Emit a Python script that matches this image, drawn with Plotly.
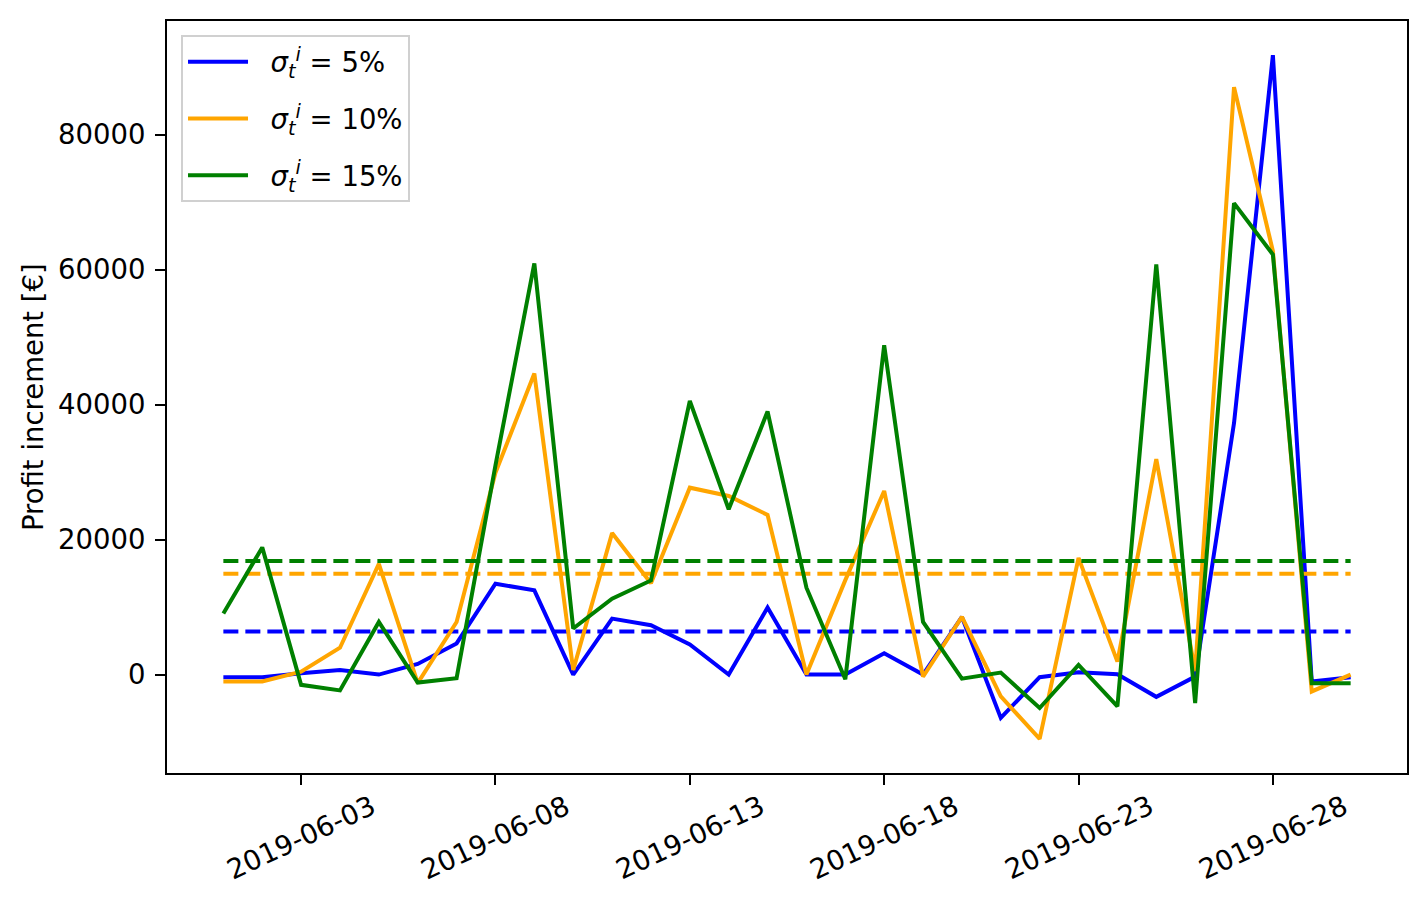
import numpy as np
import plotly.graph_objects as go

dates = [f"2019-06-{d:02d}" for d in range(1, 31)]

profit_5 = [-380, -380, 200, 690, 0, 1580, 4620, 13460, 12480, 0,
            8300, 7320, 4470, 0, 9930, 0, 0, 3150, 0, 8540,
            -6420, -390, 350, 50, -3300, -300, 37270, 91800, -1030, -390]
profit_10 = [-1030, -1030, 440, 3980, 16400, -1270, 7800, 29900, 44630, 690,
             20970, 13550, 27700, 26470, 23670, 0, 14000, 27210, -290, 8540,
             -3240, -9520, 17290, 1920, 31920, 500, 87060, 62750, -2500, 0]
profit_15 = [9040, 18850, -1520, -2350, 7800, -1180, -540, 31000, 60940, 6830,
             11250, 13950, 40560, 24500, 38990, 12870, -680, 48810, 7810, -600,
             300, -4950, 1430, -4710, 60790, -4210, 69870, 62260, -1270, -1270]

series_names = ["  <i>σ</i><sub><i>t</i></sub><sup><i>i</i></sup> = 5%",
                "  <i>σ</i><sub><i>t</i></sub><sup><i>i</i></sup> = 10%",
                "  <i>σ</i><sub><i>t</i></sub><sup><i>i</i></sup> = 15%"]
colors = ["#0000ff", "#ffa500", "#008000"]

xtick_vals = ["2019-06-03", "2019-06-08", "2019-06-13", "2019-06-18", "2019-06-23", "2019-06-28"]
ytick_vals = [0, 20000, 40000, 60000, 80000]

FONT = "DejaVu Sans"
FS = 27.5

fig = go.Figure()
all_series = [profit_5, profit_10, profit_15]
for i, (vals, name, col) in enumerate(zip(all_series, series_names, colors)):
    fig.add_trace(go.Scatter(x=dates, y=vals, mode="lines", name=name,
                             line=dict(color=col, width=4), legendgroup=f"g{i}"))
    m = float(np.mean(vals))
    fig.add_trace(go.Scatter(x=dates, y=[m] * len(dates), mode="lines",
                             showlegend=False, hoverinfo="skip",
                             line=dict(color=col, width=4, dash="15px,7px")))

allv = np.concatenate([np.array(s) for s in all_series])
ymin, ymax = allv.min(), allv.max()
pad = 0.05 * (ymax - ymin)

t0 = np.datetime64("2019-06-01T00:00")
t1 = np.datetime64("2019-06-30T00:00")
span = (t1 - t0)
xpad = span * 0.05
xr = [str(t0 - xpad), str(t1 + xpad)]

annotations = []
for d in xtick_vals:
    annotations.append(dict(x=d, xref="x", y=-0.085, yref="paper", text=d,
                            showarrow=False, textangle=-25,
                            xanchor="center", yanchor="middle",
                            font=dict(family=FONT, size=FS, color="black")))
annotations.append(dict(x=-0.108, xref="paper", y=0.5, yref="paper",
                        text="Profit increment [€]", showarrow=False, textangle=-90,
                        xanchor="center", yanchor="middle",
                        font=dict(family=FONT, size=FS, color="black")))

fig.update_layout(
    width=1426, height=907,
    margin=dict(l=159, r=27, t=11, b=142),
    paper_bgcolor="white", plot_bgcolor="white",
    font=dict(family=FONT, size=FS, color="black"),
    showlegend=True,
    legend=dict(x=0.0113, y=0.981, xanchor="left", yanchor="top",
                bgcolor="white", bordercolor="#d0d0d0", borderwidth=2,
                itemwidth=60, tracegroupgap=18,
                font=dict(family=FONT, size=FS, color="black")),
    annotations=annotations,
    xaxis=dict(type="date", range=xr, tickvals=xtick_vals, showticklabels=False,
               showgrid=False, zeroline=False, showline=True, linecolor="black",
               linewidth=2, mirror=True, ticks="outside", ticklen=10,
               tickwidth=2, tickcolor="black"),
    yaxis=dict(range=[ymin - pad, ymax + pad], tickvals=ytick_vals, tickformat="d",
               showgrid=False, zeroline=False, showline=True, linecolor="black",
               linewidth=2, mirror=True, ticks="outside", ticklen=10,
               tickwidth=2, tickcolor="black", ticklabelstandoff=4,
               tickfont=dict(family=FONT, size=FS, color="black")),
)

fig.write_html("out.html")
